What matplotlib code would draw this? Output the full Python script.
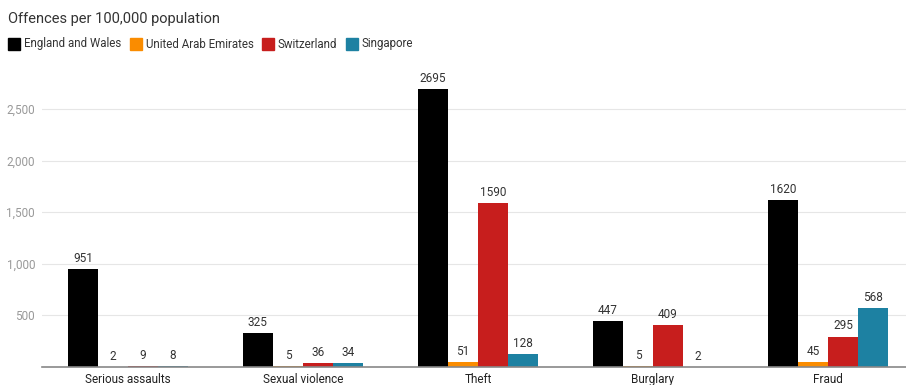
import matplotlib
matplotlib.use("Agg")
import matplotlib.pyplot as plt
import numpy as np

plt.rcParams['font.family'] = ['Roboto', 'DejaVu Sans']

categories = ["Serious assaults", "Sexual violence", "Theft", "Burglary", "Fraud"]
series_names = ["England and Wales", "United Arab Emirates", "Switzerland", "Singapore"]
england_wales = [951, 325, 2695, 447, 1620]
uae = [2, 5, 51, 5, 45]
switzerland = [9, 36, 1590, 409, 295]
singapore = [8, 34, 128, 2, 568]
colors = ["#000000", "#fa8c00", "#c71e1d", "#1d81a2"]
yticks = [500, 1000, 1500, 2000, 2500]
ytick_labels = ["500", "1,000", "1,500", "2,000", "2,500"]

W, H = 906, 385
fig = plt.figure(figsize=(W / 100, H / 100), dpi=100)
ax_left, ax_right, ax_bottom, ax_top = 42, 906, 367, 70
ax = fig.add_axes([ax_left / W, 1 - ax_bottom / H, (ax_right - ax_left) / W, (ax_bottom - ax_top) / H])

x = np.arange(len(categories))
bw = 30 / 175
data = [england_wales, uae, switzerland, singapore]
for i, (vals, col) in enumerate(zip(data, colors)):
    offs = (i - 1.5) * bw
    ax.bar(x + offs, vals, width=bw, color=col, zorder=3, linewidth=0)
    for xi, v in zip(x + offs, vals):
        ax.annotate(str(v), (xi, v), xytext=(0, 3), textcoords="offset points",
                    ha="center", va="bottom", fontsize=8.5, color="#333333", zorder=4)

ax.set_xlim(-0.491, 4.446)
ax.set_ylim(0, 2878)
ax.set_yticks(yticks)
ax.set_yticklabels(ytick_labels)
ax.set_xticks(x)
ax.set_xticklabels(categories)
ax.tick_params(axis='y', length=0, pad=5, labelsize=8.5, labelcolor="#999999")
ax.tick_params(axis='x', length=0, pad=4.5, labelsize=8.5, labelcolor="#222222")
ax.grid(axis='y', color="#e6e6e6", linewidth=0.8, zorder=0)
for s in ["top", "right", "left"]:
    ax.spines[s].set_visible(False)
ax.spines["bottom"].set_color("#888888")
ax.spines["bottom"].set_linewidth(1.2)
ax.spines["bottom"].set_zorder(5)

fig.text(8 / W, 1 - 19 / H, "Offences per 100,000 population", fontsize=10.5,
         color="#333333", ha="left", va="center")

# legend
ly = 44
positions = [8, 130, 262, 346]
for name, col, px in zip(series_names, colors, positions):
    fig.patches.append(plt.Rectangle((px / W, 1 - (ly + 6) / H), 12 / W, 12 / H,
                                     transform=fig.transFigure, color=col, figure=fig))
    fig.text((px + 16) / W, 1 - ly / H, name, fontsize=8.3, color="#333333",
             ha="left", va="center")

fig.savefig("out.png", dpi=100)
